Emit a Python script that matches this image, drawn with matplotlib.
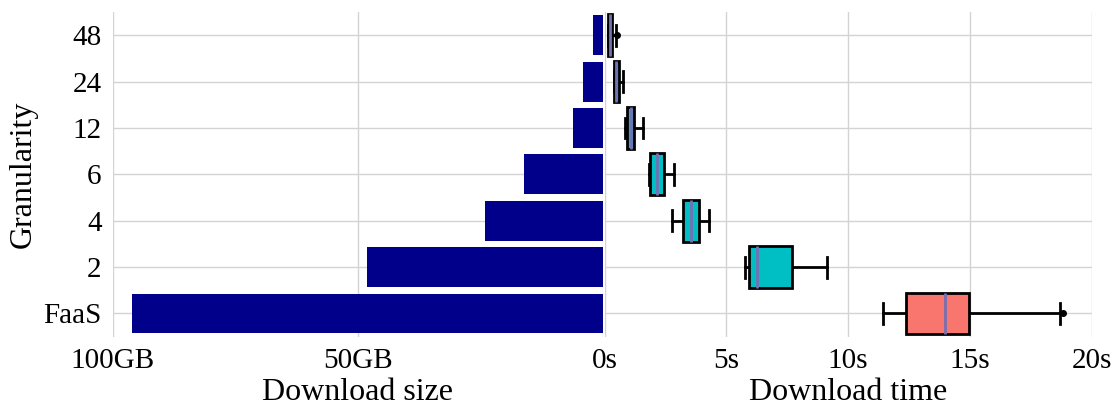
import matplotlib
matplotlib.use('Agg')
import matplotlib.pyplot as plt

plt.rcParams['font.family'] = ['Liberation Serif', 'DejaVu Serif']
plt.rcParams['font.size'] = 21

categories = ['FaaS', '2', '4', '6', '12', '24', '48']
download_size_gb = [96, 48, 24, 16, 6, 4, 2]

# box stats (seconds)
whislo = [11.45, 5.75, 2.77, 1.84, 0.85, 0.37, 0.12]
q1 = [12.36, 5.91, 3.22, 1.86, 0.90, 0.38, 0.14]
med = [13.99, 6.25, 3.54, 2.14, 1.07, 0.45, 0.22]
q3 = [14.95, 7.68, 3.87, 2.44, 1.22, 0.60, 0.29]
whishi = [18.68, 9.11, 4.30, 2.86, 1.56, 0.74, 0.45]
fliers = [[18.81], [], [], [], [], [], [0.52]]

box_colors = ['#F8766D'] + ['#00BFC4'] * 6
grid_color = '#d3d3d3'

fig = plt.figure(figsize=(11.15, 4.08), dpi=100)
ax1 = fig.add_axes([0.1011, 0.1748, 0.4393, 0.7958])
ax2 = fig.add_axes([0.5423, 0.1748, 0.4368, 0.7958])

ypos = list(range(len(categories)))

# left: download size
ax1.barh(ypos, download_size_gb, height=0.86, color='darkblue', zorder=2)
ax1.set_xlim(100, 0)
ax1.set_ylim(-0.5, 6.5)
ax1.set_xticks([100, 50, 0])
ax1.set_xticklabels(['100GB', '50GB', ''])
ax1.set_yticks(ypos)
ax1.set_yticklabels(categories)
ax1.set_xlabel('Download size', fontsize=23, labelpad=3)
ax1.set_ylabel('Granularity', fontsize=23, labelpad=4)

# right: download time
stats = []
for i in range(len(categories)):
    stats.append(dict(whislo=whislo[i], q1=q1[i], med=med[i], q3=q3[i],
                      whishi=whishi[i], fliers=fliers[i]))
bp = ax2.bxp(stats, positions=ypos, widths=0.9, vert=False, patch_artist=True,
             boxprops=dict(linewidth=2, edgecolor='black'),
             whiskerprops=dict(linewidth=2, color='black'),
             capprops=dict(linewidth=2, color='black'),
             medianprops=dict(linewidth=2, color='#7570B3'),
             flierprops=dict(marker='o', markersize=4, markerfacecolor='black',
                             markeredgecolor='black'))
for patch, c in zip(bp['boxes'], box_colors):
    patch.set_facecolor(c)
    patch.set_zorder(3)
for m in bp['medians']:
    m.set_zorder(4)
ax2.set_xlim(0, 20)
ax2.set_ylim(-0.5, 6.5)
ax2.set_xticks([0, 5, 10, 15, 20])
ax2.set_xticklabels(['0s', '5s', '10s', '15s', '20s'])
ax2.set_yticks(ypos)
ax2.set_yticklabels([])
ax2.set_xlabel('Download time', fontsize=23, labelpad=3)

for ax in (ax1, ax2):
    ax.grid(True, color=grid_color, linewidth=1)
    ax.set_axisbelow(True)
    for s in ax.spines.values():
        s.set_visible(False)
    ax.tick_params(length=0, pad=8)

fig.savefig('out.png', dpi=100)
